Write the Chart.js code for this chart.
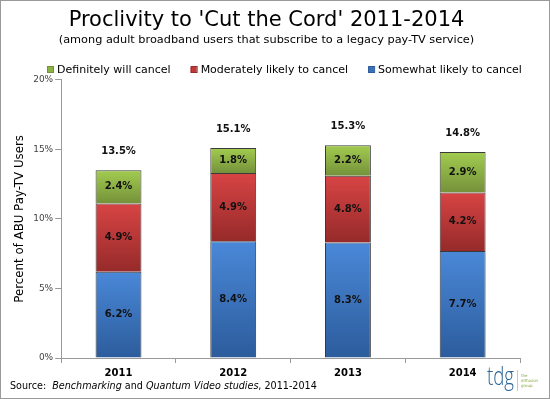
<!DOCTYPE html>
<html>
<head>
<meta charset="utf-8">
<script src="https://cdn.jsdelivr.net/npm/chart.js@4/dist/chart.umd.min.js"></script>
<style>
  body { margin: 0; background: #fff; }
  canvas { display: block; }
</style>
</head>
<body>
<canvas id="chart" width="550" height="399"></canvas>
<script>
// data
const years = ['2011', '2012', '2013', '2014'];
const somewhat = [6.2, 8.4, 8.3, 7.7];
const moderately = [4.9, 4.9, 4.8, 4.2];
const definitely = [2.4, 1.8, 2.2, 2.9];
const totals = [13.5, 15.1, 15.3, 14.8];
const yMax = 20;
const yStep = 5;

const FONT = '"DejaVu Sans", Verdana, sans-serif';

// light / dark ends of each series' gradient, plus the legend swatch
const blue = ['#4a88d8', '#2c5c9c', '#3a70bc'];
const red = ['#d84444', '#962a2a', '#c03838'];
const green = ['#a2cc50', '#75913a', '#8db443'];

// vertical gradient per bar segment, light on top, dark at the bottom
function grad(col) {
  return function (ctx) {
    const chart = ctx.chart;
    if (ctx.type !== 'data' || !chart.chartArea || !chart.scales.y) return col[2];
    let start = 0;
    for (let i = 0; i < ctx.datasetIndex; i++) start += chart.data.datasets[i].data[ctx.dataIndex];
    const val = chart.data.datasets[ctx.datasetIndex].data[ctx.dataIndex];
    const y = chart.scales.y;
    const top = y.getPixelForValue(start + val);
    const bottom = y.getPixelForValue(start);
    const g = chart.ctx.createLinearGradient(0, top, 0, bottom);
    g.addColorStop(0, col[0]);
    g.addColorStop(1, col[1]);
    return g;
  };
}

const frame = {
  id: 'frame',
  beforeDraw(chart) {
    const c = chart.ctx;
    c.save();
    c.fillStyle = '#fff';
    c.fillRect(0, 0, chart.width, chart.height);
    c.restore();
  },
  afterDraw(chart) {
    const c = chart.ctx;
    c.save();
    c.strokeStyle = '#9a9a9a';
    c.lineWidth = 1;
    c.strokeRect(0.5, 0.5, chart.width - 1, chart.height - 1);

    // legend, green first like the original
    c.font = '11px ' + FONT;
    c.textBaseline = 'middle';
    let lx = 47;
    const ly = 70;
    for (let i = chart.data.datasets.length - 1; i >= 0; i--) {
      const ds = chart.data.datasets[i];
      c.fillStyle = ds.swatch;
      c.fillRect(lx, ly - 3, 6, 6);
      c.strokeStyle = ds.swatchEdge;
      c.strokeRect(lx + 0.5, ly - 3.5, 6, 6);
      c.fillStyle = '#000';
      c.fillText(ds.label, lx + 10, ly);
      lx += 10 + c.measureText(ds.label).width + 20;
    }

    // source line
    let x = 10;
    const y = 386;
    const parts = [
      ['Source:  ', false], ['Benchmarking', true], [' and ', false],
      ['Quantum Video studies', true], [', 2011-2014', false]
    ];
    parts.forEach(p => {
      c.font = (p[1] ? 'italic ' : '') + '9.6px ' + FONT;
      c.fillText(p[0], x, y);
      x += c.measureText(p[0]).width;
    });

    // tdg logo, squeezed to the narrow shape of the original
    c.fillStyle = '#2b6597';
    c.font = '300 25px "Open Sans", ' + FONT;
    c.textAlign = 'left';
    c.textBaseline = 'alphabetic';
    const w = c.measureText('tdg').width;
    c.save();
    c.translate(487, 385);
    c.scale(27 / w, 1);
    c.fillText('tdg', 0, 0);
    c.restore();
    c.strokeStyle = '#c8c8c8';
    c.beginPath();
    c.moveTo(517.5, 370);
    c.lineTo(517.5, 391);
    c.stroke();
    c.fillStyle = '#8aa84a';
    c.font = '4px ' + FONT;
    c.fillText('the', 521, 377);
    c.fillText('diffusion', 521, 382);
    c.fillText('group', 521, 387);
    c.restore();
  }
};

const barLabels = {
  id: 'barLabels',
  afterDatasetsDraw(chart) {
    const c = chart.ctx;
    c.save();
    c.font = 'bold 10px ' + FONT;
    c.fillStyle = '#111';
    c.textAlign = 'center';
    c.textBaseline = 'middle';
    chart.data.datasets.forEach((ds, i) => {
      chart.getDatasetMeta(i).data.forEach((bar, j) => {
        c.fillText(ds.data[j].toFixed(1) + '%', bar.x, (bar.y + bar.base) / 2);
      });
    });
    const last = chart.getDatasetMeta(chart.data.datasets.length - 1).data;
    last.forEach((bar, j) => {
      c.fillText(totals[j].toFixed(1) + '%', bar.x, bar.y - 19);
    });
    c.restore();
  }
};

new Chart(document.getElementById('chart'), {
  type: 'bar',
  data: {
    labels: years,
    datasets: [
      { label: 'Somewhat likely to cancel', data: somewhat, swatch: blue[2], swatchEdge: blue[1],
        backgroundColor: grad(blue), borderColor: '#3a3a3a', borderWidth: 1 },
      { label: 'Moderately likely to cancel', data: moderately, swatch: red[2], swatchEdge: red[1],
        backgroundColor: grad(red), borderColor: '#3a3a3a', borderWidth: 1 },
      { label: 'Definitely will cancel', data: definitely, swatch: green[2], swatchEdge: green[1],
        backgroundColor: grad(green), borderColor: '#3a3a3a', borderWidth: 1 }
    ]
  },
  options: {
    responsive: false,
    animation: false,
    devicePixelRatio: 1,
    layout: { padding: { left: 13, right: 30, top: 8, bottom: 16 } },
    datasets: { bar: { categoryPercentage: 1, barPercentage: 0.4 } },
    plugins: {
      title: {
        display: true,
        text: "Proclivity to 'Cut the Cord' 2011-2014",
        color: '#000',
        font: { family: FONT, size: 21, weight: 'normal' },
        padding: { top: 0, bottom: 0 }
      },
      subtitle: {
        display: true,
        text: '(among adult broadband users that subscribe to a legacy pay-TV service)',
        color: '#000',
        font: { family: FONT, size: 11.3, weight: 'normal' },
        padding: { top: 0, bottom: 33 }
      },
      legend: { display: false },
      tooltip: { enabled: false }
    },
    scales: {
      x: {
        stacked: true,
        border: { color: '#9a9a9a' },
        grid: { drawOnChartArea: false, tickLength: 5, color: '#9a9a9a', offset: true },
        ticks: { color: '#000', padding: 4, font: { family: FONT, size: 10, weight: 'bold' } }
      },
      y: {
        stacked: true,
        min: 0,
        max: yMax,
        border: { color: '#9a9a9a' },
        grid: { drawOnChartArea: false, tickLength: 6, color: '#9a9a9a' },
        ticks: { stepSize: yStep, color: '#444', padding: 2,
                 font: { family: FONT, size: 9 },
                 callback: v => v + '%' },
        title: { display: true, text: 'Percent of ABU Pay-TV Users', color: '#000',
                 font: { family: FONT, size: 11.8 }, padding: { top: 0, bottom: 4 } }
      }
    }
  },
  plugins: [frame, barLabels]
});
</script>
</body>
</html>
